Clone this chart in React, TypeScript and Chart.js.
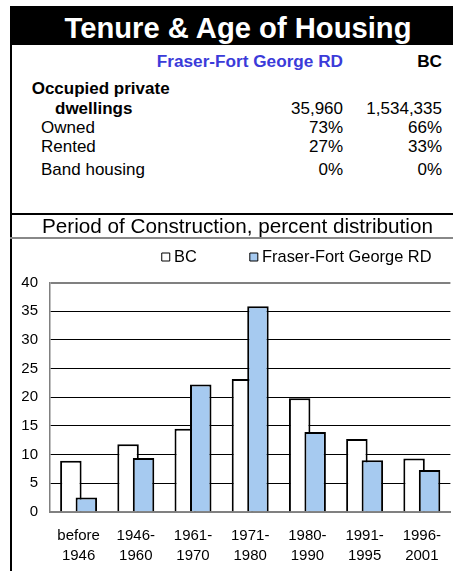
import React, { useEffect, useRef } from 'react';
import { Chart, registerables } from 'chart.js';

Chart.register(...registerables);

// ---------- data ----------
const periodLabels: string[][] = [
  ['before', '1946'],
  ['1946-', '1960'],
  ['1961-', '1970'],
  ['1971-', '1980'],
  ['1980-', '1990'],
  ['1991-', '1995'],
  ['1996-', '2001'],
];
const seriesNames = ['BC', 'Fraser-Fort George RD'];
const bcValues = [8.9, 11.8, 14.5, 23.2, 19.8, 12.7, 9.3];
const ffgValues = [2.5, 9.4, 22.2, 35.9, 13.9, 9.0, 7.3];
const yMin = 0;
const yMax = 40;
const yStep = 5;

const pageTitle = 'Tenure & Age of Housing';
const chartTitle = 'Period of Construction, percent distribution';
const regionName = 'Fraser-Fort George RD';
const provinceName = 'BC';
const dwellingsLabel = ['Occupied private', 'dwellings'];
const dwellingsRegion = '35,960';
const dwellingsProvince = '1,534,335';
const tenureLabels = ['Owned', 'Rented', 'Band housing'];
const tenureRegion = ['73%', '27%', '0%'];
const tenureProvince = ['66%', '33%', '0%'];

// ---------- layout constants ----------
const FONT = '"Liberation Sans", Arial, Helvetica, sans-serif';
const CANVAS_LEFT = 12;
const CANVAS_TOP = 190;
const CANVAS_W = 443;
const CANVAS_H = 571 - CANVAS_TOP;
const LEG_P = 57;
const LEG_FS = 16.4;
const LEG_LEFT = 165.7 - CANVAS_LEFT - LEG_P;
const LEG_TOP = 257 - CANVAS_TOP - LEG_P - LEG_FS / 2;
const LEG_H = LEG_FS + LEG_P + 10;
const PLOT_TOP = 282.7;
const PLOT_BOTTOM = 511.7;

const legendPlacer = {
  id: 'legendPlacer',
  beforeDraw(chart: any) {
    const lg = chart.legend;
    if (!lg) return;
    lg.left = LEG_LEFT;
    lg.right = LEG_LEFT + 1000;
    lg.top = LEG_TOP;
  },
};

const drawOrder = {
  id: 'drawOrder',
  beforeDatasetsDraw(chart: any) {
    const metas = chart.getSortedVisibleDatasetMetas();
    for (const m of metas) m.controller.draw();
    return false;
  },
};

function Txt(props: { x: number; b: number; fs: number; bold?: boolean; color?: string; align?: 'left' | 'right' | 'center'; children: any }) {
  const { x, b, fs, bold, color, align, children } = props;
  const style: any = {
    position: 'absolute',
    top: b - 0.8465 * fs,
    fontSize: fs,
    lineHeight: fs + 'px',
    fontWeight: bold ? 700 : 400,
    color: color || '#000',
    whiteSpace: 'nowrap',
    fontFamily: FONT,
  };
  if (align === 'right') {
    style.right = 453 - x;
    style.textAlign = 'right';
  } else if (align === 'center') {
    style.left = x - 300;
    style.width = 600;
    style.textAlign = 'center';
  } else {
    style.left = x;
  }
  return <div style={style}>{children}</div>;
}

export default function App() {
  const canvasRef = useRef<HTMLCanvasElement | null>(null);

  useEffect(() => {
    const canvas = canvasRef.current;
    if (!canvas) return;
    const chart = new Chart(canvas, {
      type: 'bar',
      data: {
        labels: periodLabels,
        datasets: [
          {
            label: seriesNames[0],
            data: bcValues,
            backgroundColor: '#ffffff',
            borderColor: '#000000',
            borderWidth: 2,
            categoryPercentage: 0.5415,
            barPercentage: 1.387,
          },
          {
            label: seriesNames[1],
            data: ffgValues,
            backgroundColor: '#a6caf0',
            borderColor: '#000000',
            borderWidth: 2,
            categoryPercentage: 0.5415,
            barPercentage: 1.387,
          },
        ],
      },
      options: {
        responsive: false,
        animation: false,
        events: [],
        layout: { padding: { top: PLOT_TOP - CANVAS_TOP - LEG_H, left: 0, right: 0, bottom: 0 } },
        plugins: {
          title: { display: false },
          tooltip: { enabled: false },
          legend: {
            display: true,
            position: 'top',
            align: 'start',
            labels: {
              usePointStyle: true,
              pointStyle: 'rect',
              boxWidth: 0.1,
              boxHeight: 8,
              padding: LEG_P,
              color: '#000',
              font: { family: FONT, size: LEG_FS },
              generateLabels: (c: any) =>
                (Chart as any).defaults.plugins.legend.labels
                  .generateLabels(c)
                  .map((l: any) => ({ ...l, lineWidth: 1, strokeStyle: '#000' })),
            },
          },
        },
        scales: {
          x: {
            type: 'category',
            grid: { display: false, drawTicks: false },
            border: { display: true, color: '#808080', width: 2 },
            ticks: {
              color: '#000',
              font: { family: FONT, size: 15, lineHeight: 1.333 },
              padding: 14,
              maxRotation: 0,
              autoSkip: false,
            },
            afterFit: (s: any) => {
              s.height = CANVAS_H - (PLOT_BOTTOM - CANVAS_TOP);
            },
          },
          y: {
            min: yMin,
            max: yMax,
            ticks: {
              stepSize: yStep,
              color: '#000',
              font: { family: FONT, size: 15 },
              padding: 12,
            },
            grid: {
              drawTicks: false,
              color: (ctx: any) =>
                ctx.tick && (ctx.tick.value === yMax || ctx.tick.value === yMin) ? '#808080' : '#000000',
              lineWidth: (ctx: any) => (ctx.tick && ctx.tick.value === yMax ? 2 : 1),
            },
            border: { display: true, color: '#808080', width: 1.5 },
            afterFit: (s: any) => {
              s.width = 50 - CANVAS_LEFT;
            },
          },
        },
      } as any,
      plugins: [legendPlacer, drawOrder],
    });
    return () => chart.destroy();
  }, []);

  const rowBase = [133.3, 152.7, 175];

  return (
    <div
      style={{
        position: 'fixed',
        left: 0,
        top: 0,
        width: 453,
        height: 571,
        overflow: 'hidden',
        background: '#fff',
        fontFamily: FONT,
      }}
    >
      <canvas
        ref={canvasRef}
        width={CANVAS_W}
        height={CANVAS_H}
        style={{ position: 'absolute', left: CANVAS_LEFT, top: CANVAS_TOP, width: CANVAS_W, height: CANVAS_H }}
      />
      {/* black title band */}
      <div style={{ position: 'absolute', left: 10, top: 6, width: 460, height: 39, background: '#000' }} />
      {/* left border */}
      <div style={{ position: 'absolute', left: 10, top: 6, width: 2, height: 580, background: '#000' }} />
      {/* separators */}
      <div style={{ position: 'absolute', left: 10, top: 213, width: 460, height: 2, background: '#000' }} />
      <div style={{ position: 'absolute', left: 10, top: 237, width: 460, height: 2, background: '#888' }} />

      <Txt x={238} b={38.3} fs={29.2} bold color="#fff" align="center">{pageTitle}</Txt>

      <Txt x={343} b={68} fs={17.2} bold color="#3b3bd9" align="right">{regionName}</Txt>
      <Txt x={442} b={68} fs={17.2} bold align="right">{provinceName}</Txt>

      <Txt x={31.7} b={94.3} fs={17} bold>{dwellingsLabel[0]}</Txt>
      <Txt x={55} b={114} fs={17} bold>{dwellingsLabel[1]}</Txt>
      <Txt x={343} b={114} fs={17} align="right">{dwellingsRegion}</Txt>
      <Txt x={442} b={114} fs={17} align="right">{dwellingsProvince}</Txt>

      {tenureLabels.map((lab, i) => (
        <React.Fragment key={lab}>
          <Txt x={41} b={rowBase[i]} fs={17}>{lab}</Txt>
          <Txt x={343} b={rowBase[i]} fs={17} align="right">{tenureRegion[i]}</Txt>
          <Txt x={442} b={rowBase[i]} fs={17} align="right">{tenureProvince[i]}</Txt>
        </React.Fragment>
      ))}

      <Txt x={237.5} b={233.5} fs={20.7} align="center">{chartTitle}</Txt>
    </div>
  );
}
